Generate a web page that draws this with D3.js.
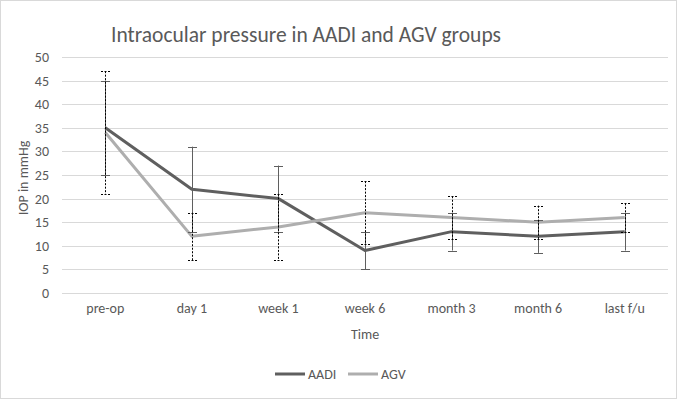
<!DOCTYPE html>
<html>
<head>
<meta charset="utf-8">
<script src="https://cdn.jsdelivr.net/npm/d3@7"></script>
<style>
  body { margin: 0; background: white; }
  text { font-family: Carlito, Calibri, "Open Sans", sans-serif; fill: #595959; }
</style>
</head>
<body>
<div id="viz"></div>
<script>
var categories = ['pre-op', 'day 1', 'week 1', 'week 6', 'month 3', 'month 6', 'last f/u'],
    aadiValues = [35, 22, 20, 9, 13, 12, 13],
    aadiError = [10, 9, 7, 4, 4, 3.5, 4],
    agvValues = [34, 12, 14, 17, 16, 15, 16],
    agvError = [13, 5, 7, 6.7, 4.5, 3.5, 3],
    yTicks = [0, 5, 10, 15, 20, 25, 30, 35, 40, 45, 50];

var width = 677,
    height = 399,
    margin = { top: 57, right: 9, bottom: 106, left: 62 },
    capWidth = 8;

var series = [
    { name: 'AADI', values: aadiValues, errors: aadiError, color: '#5f5f5f', barColor: '#5f5f5f', dash: null },
    { name: 'AGV', values: agvValues, errors: agvError, color: '#aeaeae', barColor: '#000000', dash: '2,1.5' }
];

var svg = d3.select('#viz').append('svg')
    .attr('width', width)
    .attr('height', height);

// outer frame
svg.append('rect')
    .attr('x', 0.5).attr('y', 0.5)
    .attr('width', width - 1).attr('height', height - 1)
    .attr('fill', 'white')
    .attr('stroke', '#d9d9d9');

var xScale = d3.scaleBand()
    .domain(categories)
    .range([margin.left, width - margin.right]);

var yScale = d3.scaleLinear()
    .domain([0, 50])
    .range([height - margin.bottom, margin.top]);

// gridlines
svg.append('g')
    .selectAll('line').data(yTicks)
    .enter().append('line')
        .attr('x1', margin.left)
        .attr('x2', width - margin.right)
        .attr('y1', function(d) { return Math.round(yScale(d)) + 0.5; })
        .attr('y2', function(d) { return Math.round(yScale(d)) + 0.5; })
        .attr('stroke', '#d9d9d9')
        .attr('stroke-width', 1);

// y axis labels
var yAxis = d3.axisLeft(yScale).tickValues(yTicks).tickSize(0).tickPadding(13);
svg.append('g')
    .attr('transform', 'translate(' + margin.left + ',0)')
    .call(yAxis)
    .call(function(g) { g.select('.domain').remove(); })
    .selectAll('text')
        .style('font-size', '14px')
        .attr('fill', '#595959');

// x axis labels
var xAxis = d3.axisBottom(xScale).tickSize(0).tickPadding(10);
svg.append('g')
    .attr('transform', 'translate(0,' + (height - margin.bottom) + ')')
    .call(xAxis)
    .call(function(g) { g.select('.domain').remove(); })
    .selectAll('text')
        .style('font-size', '14px')
        .attr('fill', '#595959');

var cx = function(d, i) { return xScale(categories[i]) + xScale.bandwidth() / 2; };

var line = d3.line()
    .x(function(d, i) { return cx(d, i); })
    .y(function(d) { return yScale(d); });

// lines
series.forEach(function(s) {
    svg.append('path')
        .datum(s.values)
        .attr('d', line)
        .attr('fill', 'none')
        .attr('stroke', s.color)
        .attr('stroke-width', 3)
        .attr('stroke-linejoin', 'round');
});

// error bars
series.forEach(function(s) {
    var g = svg.append('g')
        .attr('stroke', s.barColor)
        .attr('stroke-width', 1)
        .attr('stroke-dasharray', s.dash);
    var bars = g.selectAll('g').data(s.values)
        .enter().append('g');
    bars.append('line')
        .attr('x1', function(d, i) { return Math.round(cx(d, i)) + 0.5; })
        .attr('x2', function(d, i) { return Math.round(cx(d, i)) + 0.5; })
        .attr('y1', function(d, i) { return yScale(d + s.errors[i]); })
        .attr('y2', function(d, i) { return yScale(d - s.errors[i]); });
    bars.append('line')
        .attr('x1', function(d, i) { return Math.round(cx(d, i)) - capWidth / 2; })
        .attr('x2', function(d, i) { return Math.round(cx(d, i)) + capWidth / 2 + 1; })
        .attr('y1', function(d, i) { return Math.round(yScale(d + s.errors[i])) + 0.5; })
        .attr('y2', function(d, i) { return Math.round(yScale(d + s.errors[i])) + 0.5; });
    bars.append('line')
        .attr('x1', function(d, i) { return Math.round(cx(d, i)) - capWidth / 2; })
        .attr('x2', function(d, i) { return Math.round(cx(d, i)) + capWidth / 2 + 1; })
        .attr('y1', function(d, i) { return Math.round(yScale(d - s.errors[i])) + 0.5; })
        .attr('y2', function(d, i) { return Math.round(yScale(d - s.errors[i])) + 0.5; });
});

// title
svg.append('text')
    .attr('x', 306)
    .attr('y', 42)
    .attr('text-anchor', 'middle')
    .style('font-size', '21.5px')
    .text('Intraocular pressure in AADI and AGV groups');

// axis titles
svg.append('text')
    .attr('transform', 'translate(28,178) rotate(-90)')
    .attr('text-anchor', 'middle')
    .style('font-size', '14px')
    .text('IOP in mmHg');

svg.append('text')
    .attr('x', (margin.left + width - margin.right) / 2)
    .attr('y', 339)
    .attr('text-anchor', 'middle')
    .style('font-size', '14px')
    .text('Time');

// legend
var legend = svg.append('g')
    .selectAll('g').data(series)
    .enter().append('g')
        .attr('transform', function(d, i) { return 'translate(' + (275 + i * 73) + ',374)'; });
legend.append('line')
    .attr('x1', 0).attr('x2', 30)
    .attr('stroke', function(d) { return d.color; })
    .attr('stroke-width', 3);
legend.append('text')
    .attr('x', 33)
    .attr('dy', '0.35em')
    .style('font-size', '14px')
    .text(function(d) { return d.name; });
</script>
</body>
</html>
